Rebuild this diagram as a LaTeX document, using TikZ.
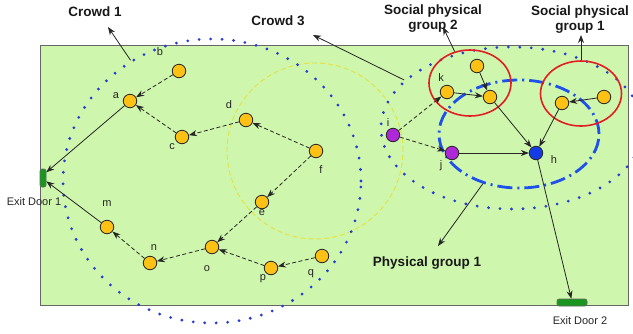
\documentclass[tikz,border=0pt]{standalone}
\usepackage{fontspec}
\setmainfont{Liberation Sans}
\usetikzlibrary{shapes.geometric,arrows.meta}
\definecolor{bg}{RGB}{206,246,172}
\definecolor{dotblue}{RGB}{40,60,210}
\definecolor{pgblue}{RGB}{30,80,235}
\definecolor{ppl}{RGB}{255,194,20}
\definecolor{purp}{RGB}{175,40,215}
\definecolor{hblue}{RGB}{20,60,230}
\definecolor{door}{RGB}{25,150,30}
\definecolor{ylw}{RGB}{228,226,60}
\definecolor{sred}{RGB}{225,30,35}
\begin{document}
\begin{tikzpicture}[x=1pt,y=-1pt,
  crowdring/.style={ellipse, draw=dotblue, line width=3.1pt, dash pattern=on 0pt off 11.5pt, line cap=round, inner sep=0pt},
  pgring/.style={ellipse, draw=pgblue, line width=2.8pt, dash pattern=on 15pt off 5pt on 2pt off 5pt, inner sep=0pt},
  spgring/.style={ellipse, draw=sred, line width=1.6pt, inner sep=0pt},
  person/.style={circle, draw=black!85, fill=ppl, minimum size=13.5pt, inner sep=0pt, line width=0.8pt},
  lbl/.style={font=\fontsize{11}{13}\selectfont, text=black!85, inner sep=0pt},
  big/.style={font=\fontsize{13.5}{15}\selectfont\bfseries, text=black!90, align=center, inner sep=0pt},
  flow/.style={-{Stealth[length=8pt,width=6pt]}, line width=0.8pt, draw=black!85},
  dflow/.style={flow, dash pattern=on 4pt off 2.5pt},
  doorbox/.style={rectangle, rounded corners=2pt, draw=black!60, fill=door, inner sep=0pt, line width=0.6pt}
]
\useasboundingbox (0,0) rectangle (633,333);
\clip (0,0) rectangle (633,333);
\fill[white] (0,0) rectangle (633,333);
\draw[draw=black!60, fill=bg, line width=1pt] (40,45) rectangle (628,305);

% groups
\node[draw=ylw, dash pattern=on 5pt off 3pt, line width=0.9pt, circle, minimum size=176pt, inner sep=0pt] (crowd2) at (315,151) {};
\node[crowdring, minimum width=298pt, minimum height=284pt] (crowd1) at (212,181) {};
\node[crowdring, minimum width=262pt, minimum height=162pt] (crowd3) at (512,128) {};
\node[pgring, minimum width=160pt, minimum height=108pt] (pg) at (519,134) {};
\node[spgring, minimum width=82pt, minimum height=66pt] (spg2) at (470,83) {};
\node[spgring, minimum width=81pt, minimum height=65pt] (spg1) at (581,93.5) {};

% doors
\node[doorbox, minimum width=6pt, minimum height=18pt] (door1) at (43,178) {};
\node[doorbox, minimum width=30pt, minimum height=7pt] (door2) at (572,302.5) {};

% people
\node[person] (pb) at (179,71) {};
\node[person] (pa) at (130,101) {};
\node[person] (pc) at (182,137) {};
\node[person] (pd) at (246,120) {};
\node[person] (pf) at (316,151) {};
\node[person] (pe) at (262,202) {};
\node[person] (po) at (212,247) {};
\node[person] (pn) at (150,263) {};
\node[person] (pm) at (107,227) {};
\node[person] (pp) at (271,268) {};
\node[person] (pq) at (322,256) {};
\node[person, fill=purp] (pi) at (393,135) {};
\node[person, fill=purp] (pj) at (452,153) {};
\node[person] (pk) at (447,92) {};
\node[person] (pk2) at (477,66) {};
\node[person] (pk3) at (490,97) {};
\node[person, fill=hblue] (ph) at (536,153) {};
\node[person] (pgr) at (604,97) {};
\node[person] (pgl) at (562,103) {};

% letter labels
\node[lbl] (lb) at (160,52) {b};
\node[lbl] (la) at (116,96) {a};
\node[lbl] (lc) at (172,147) {c};
\node[lbl] (ld) at (229,105) {d};
\node[lbl] (lf) at (321,170) {f};
\node[lbl] (le) at (262,213) {e};
\node[lbl] (lo) at (207,269) {o};
\node[lbl] (ln) at (154,248) {n};
\node[lbl] (lm) at (107,204) {m};
\node[lbl] (lp) at (263,279) {p};
\node[lbl] (lq) at (311,274) {q};
\node[lbl] (li) at (388,123) {i};
\node[lbl] (lj) at (441,166) {j};
\node[lbl] (lk) at (441,78) {k};
\node[lbl] (lh) at (554,160) {h};
\node[lbl] (ld1) at (34,202) {Exit Door 1};
\node[lbl] (ld2) at (580,321) {Exit Door 2};

% big labels
\node[big] (tc1) at (95,12) {Crowd 1};
\node[big] (tc3) at (278,21) {Crowd 3};
\node[big] (tspg2) at (433,19) {Social physical\\group 2};
\node[big] (tspg1) at (580,20) {Social physical\\group 1};
\node[big] (tpg) at (427,263) {Physical group 1};

\coordinate (c1tip) at (108,27);
\coordinate (c3tip) at (313,35);
\coordinate (s2tip) at (443,27);
\coordinate (s1tip) at (581,35);
\coordinate (pgtip) at (438,246);

% pointer arrows
\draw[flow] (crowd1.124) -- (c1tip);
\draw[flow] (crowd3.156) -- (c3tip);
\draw[flow] (spg2.116) -- (s2tip);
\draw[flow] (spg1.north) -- (s1tip);
\draw[flow] (pg.234) -- (pgtip);

% movement
\draw[dflow] (pb) -- (pa);
\draw[dflow] (pc) -- (pa);
\draw[dflow] (pd) -- (pc);
\draw[dflow] (pf) -- (pd);
\draw[dflow] (pf) -- (pe);
\draw[dflow] (pe) -- (po);
\draw[dflow] (po) -- (pn);
\draw[dflow] (pp) -- (po);
\draw[dflow] (pq) -- (pp);
\draw[dflow] (pn) -- (pm);
\draw[flow] (pa) -- (door1.60);
\draw[flow] (pm) -- (door1.-45);
\draw[dflow] (pi) -- (pk);
\draw[dflow] (pi) -- (pj);
\draw[flow] (pj) -- (ph);
\draw[flow] (pk) -- (pk3);
\draw[flow] (pk2) -- (pk3);
\draw[flow] (pk3) -- (ph);
\draw[flow] (pgr) -- (pgl);
\draw[flow] (pgl) -- (ph);
\draw[flow] (ph) -- (door2.100);
\end{tikzpicture}
\end{document}
